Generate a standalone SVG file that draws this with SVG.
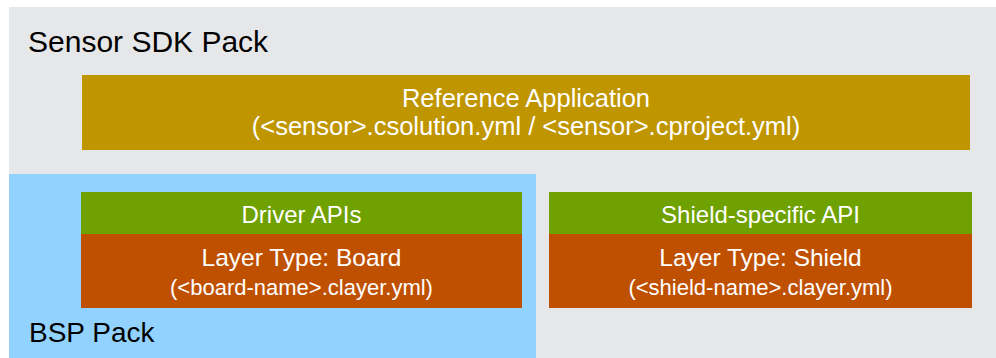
<svg xmlns="http://www.w3.org/2000/svg" width="996" height="358" viewBox="0 0 996 358">
  <style>
    text { font-family: "Liberation Sans", Arial, sans-serif; }
    .pack { font-size: 30px; fill: #000000; }
    .w { fill: #FFFFFF; text-anchor: middle; }
    .big { font-size: 25.5px; }
    .mid { font-size: 24px; }
    .sm { font-size: 22px; }
    .gold { fill: #BF9500; }
    .green { fill: #6FA100; }
    .orange { fill: #BF5000; }
  </style>
  <rect x="0" y="0" width="996" height="358" fill="#FFFFFF"/>
  <g id="sensor-sdk-pack">
    <rect x="9" y="7" width="987" height="351" fill="#E6E7E9"/>
    <text class="pack" x="28" y="52">Sensor SDK Pack</text>
  </g>
  <g id="bsp-pack">
    <rect x="9" y="174" width="527" height="184" fill="#92D2FE"/>
    <text class="pack" x="29" y="342" style="font-size:28px">BSP Pack</text>
  </g>
  <g id="reference-application">
    <rect class="gold" x="82" y="75" width="888" height="75"/>
    <text class="w big" x="526" y="107">Reference Application</text>
    <text class="w big" x="526" y="135">(&lt;sensor&gt;.csolution.yml / &lt;sensor&gt;.cproject.yml)</text>
  </g>
  <g id="driver-apis">
    <rect class="green" x="81" y="192" width="441" height="42"/>
    <text class="w mid" x="301.5" y="222.5">Driver APIs</text>
  </g>
  <g id="layer-board">
    <rect class="orange" x="81" y="234" width="441" height="74"/>
    <text class="w mid" x="301.5" y="266" style="font-size:24.5px">Layer Type: Board</text>
    <text class="w sm" x="301.5" y="295">(&lt;board-name&gt;.clayer.yml)</text>
  </g>
  <g id="shield-api">
    <rect class="green" x="549" y="192" width="423" height="42"/>
    <text class="w mid" x="760.5" y="222.5">Shield-specific API</text>
  </g>
  <g id="layer-shield">
    <rect class="orange" x="549" y="234" width="423" height="74"/>
    <text class="w mid" x="760.5" y="266" style="font-size:24.5px">Layer Type: Shield</text>
    <text class="w sm" x="760.5" y="295">(&lt;shield-name&gt;.clayer.yml)</text>
  </g>
  <g id="connectors"></g>
</svg>
